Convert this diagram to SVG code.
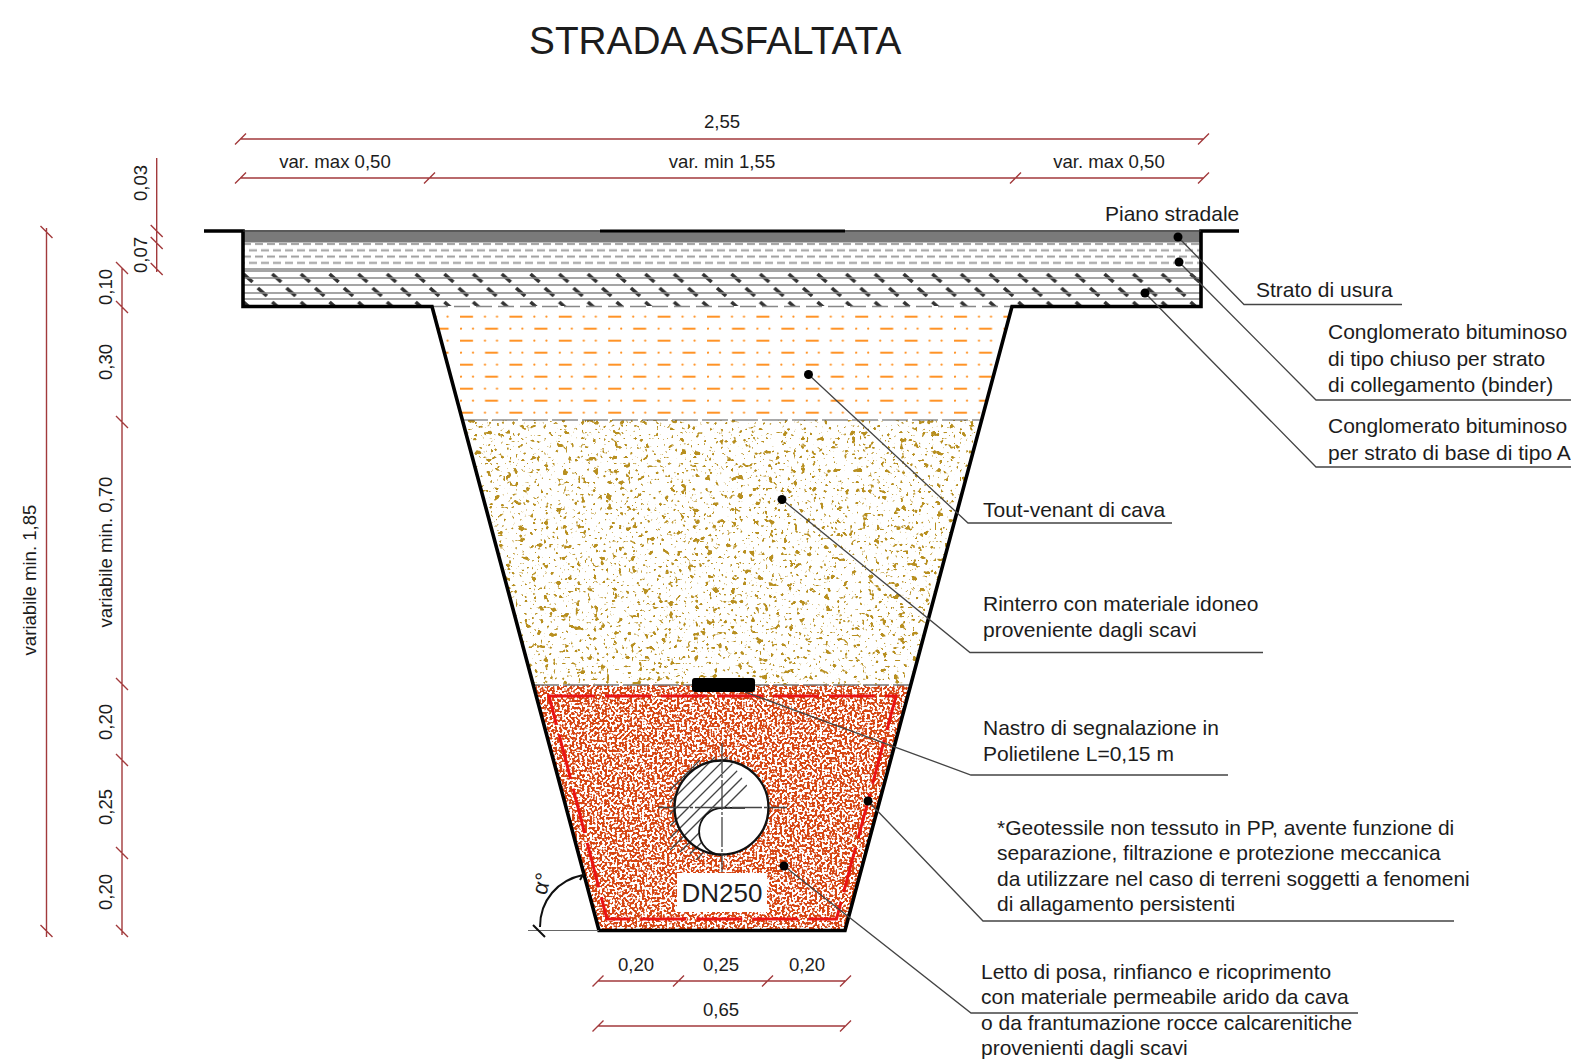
<svg xmlns="http://www.w3.org/2000/svg" width="1571" height="1061" viewBox="0 0 1571 1061">
<style>
text{font-family:"Liberation Sans",Arial,sans-serif;fill:#1c1c1c}
.t{font-size:21px}
.d{font-size:18.600px;text-anchor:middle}
.dim{stroke:#a23a3c;stroke-width:1.4;fill:none}
.lead{stroke:#444;stroke-width:1.3;fill:none}
.thick{stroke:#000;stroke-width:3.6;fill:none;stroke-linejoin:miter}
.hl{stroke:#888;stroke-width:1.3}
</style>
<defs>
<filter id="redNoise" x="0" y="0" width="100%" height="100%" color-interpolation-filters="sRGB">
<feTurbulence type="fractalNoise" baseFrequency="0.4" numOctaves="1" seed="4"/>
<feColorMatrix type="matrix" values="0 0 0 0 0.84 0 0 0 0 0.27 0 0 0 0 0.07 14 0 0 0 -6.500"/>
<feGaussianBlur stdDeviation="0.35"/>
</filter>
<filter id="goldFine" x="0" y="0" width="100%" height="100%" color-interpolation-filters="sRGB">
<feTurbulence type="fractalNoise" baseFrequency="0.32" numOctaves="1" seed="11"/>
<feColorMatrix type="matrix" values="0 0 0 0 0.72 0 0 0 0 0.56 0 0 0 0 0.12 16 0 0 0 -10.600"/>
<feGaussianBlur stdDeviation="0.3"/>
</filter>
<filter id="goldBlob" x="0" y="0" width="100%" height="100%" color-interpolation-filters="sRGB">
<feTurbulence type="fractalNoise" baseFrequency="0.16" numOctaves="2" seed="23"/>
<feColorMatrix type="matrix" values="0 0 0 0 0.72 0 0 0 0 0.56 0 0 0 0 0.12 16 0 0 0 -10.600"/>
<feGaussianBlur stdDeviation="0.3"/>
</filter>
<pattern id="orange" patternUnits="userSpaceOnUse" x="460" y="310" width="49.4" height="24">
<rect x="0" y="5.700" width="13" height="2" fill="#ff9326"/>
<rect x="25" y="17.700" width="13" height="2" fill="#ff9326"/>
<circle cx="25" cy="6.700" r="1.100" fill="#ff9326"/><circle cx="37" cy="6.700" r="1.100" fill="#ff9326"/>
<circle cx="1" cy="18.700" r="1.100" fill="#ff9326"/><circle cx="13" cy="18.700" r="1.100" fill="#ff9326"/>
</pattern>
<pattern id="grayDash" patternUnits="userSpaceOnUse" x="243" y="241" width="12" height="12.6">
<rect x="0" y="2" width="8" height="2" fill="#a0a0a0"/>
<rect x="6" y="8.300" width="6" height="2" fill="#a0a0a0"/><rect x="0" y="8.300" width="2" height="2" fill="#a0a0a0"/>
</pattern>
<pattern id="slash" patternUnits="userSpaceOnUse" x="241" y="271" width="28.7" height="28">
<path d="M2.500 3L11.500 11M16.800 17L25.800 25" stroke="#333" stroke-width="3.600" fill="none"/>
</pattern>
<clipPath id="orangeClip"><polygon points="432,308 1012,308 982,420 462,420"/></clipPath>
<clipPath id="redClip"><polygon points="533,685 911,685 845,931 599,931"/></clipPath>
<clipPath id="goldClip"><polygon points="462,420 982,420 911,685 533,685"/></clipPath>
<clipPath id="hatchClip"><polygon points="670,757 728,757 750,790 724,810 700,860 670,860"/></clipPath>
</defs>

<text x="529" y="54" style="font-size:38.800px">STRADA ASFALTATA</text>

<g id="road-layers">
<rect x="243" y="232" width="958" height="10.500" fill="#7a7a7a"/>
<rect x="243" y="243" width="958" height="25" fill="url(#grayDash)"/>
<rect x="243" y="271" width="958" height="35" fill="url(#slash)"/>
<path class="hl" d="M243 269H1201M243 271H1201M243 278H1201M243 285H1201M243 293H1201M243 299H1201"/>
<path d="M432 306.500H1012" stroke="#888" stroke-width="1.500" stroke-dasharray="16 6" fill="none"/>
</g>

<g id="trench-fill">
<g clip-path="url(#orangeClip)"><rect x="432" y="308" width="580" height="112" fill="url(#orange)"/></g>
<g clip-path="url(#goldClip)">
<rect x="460" y="420" width="525" height="266" fill="#fff" filter="url(#goldFine)"/>
<rect x="460" y="420" width="525" height="266" fill="#fff" filter="url(#goldBlob)"/>
</g>
<g clip-path="url(#redClip)"><rect x="530" y="685" width="385" height="248" fill="#fff" filter="url(#redNoise)"/></g>
<path d="M462 420H982" stroke="#555" stroke-width="1.200" stroke-dasharray="26 4" fill="none"/>
<path d="M533 685H911" stroke="#777" stroke-width="1.400" stroke-dasharray="26 4" fill="none"/>
</g>

<g id="geotextile">
<polygon points="549,696 896,696 836.500,919 607,919" fill="none" stroke="#ea1414" stroke-width="3" stroke-dasharray="46 10"/>
</g>

<g id="outline">
<path class="thick" d="M204 231H243V306.500H432L599 930.500H845L1012 306.500H1201V231H1239"/>
<path d="M243 231H1201" stroke="#222" stroke-width="1.500"/>
<path d="M600 231H845" stroke="#000" stroke-width="3"/>
</g>

<g id="pipe">
<circle cx="721.500" cy="807.500" r="47" fill="#fff"/>
<g clip-path="url(#hatchClip)">
<path d="M660 800L700 760M660 812L715 757M660 824L730 754M660 836L740 756M660 848L750 758M670 850L760 760M680 852L760 772M690 854L760 784M695 861L760 796" stroke="#444" stroke-width="1.300" fill="none"/>
</g>
<circle cx="722.700" cy="831.500" r="23.600" fill="#fff"/>
<path d="M745 807.900H722.700A23.600 23.600 0 0 0 722.700 855.100" fill="none" stroke="#111" stroke-width="1.800"/>
<circle cx="721.500" cy="807.500" r="47" fill="none" stroke="#111" stroke-width="2.400"/>
<path d="M658 807.500H787M722 743V872" stroke="#444" stroke-width="1.300" stroke-dasharray="30 2 3 2" fill="none"/>
<rect x="677" y="873" width="90" height="39" fill="#fff"/>
<text x="722" y="902" style="font-size:26px;text-anchor:middle">DN250</text>
</g>

<g id="tape"><rect x="692" y="678" width="63" height="14" rx="3" fill="#000"/></g>

<g id="angle">
<path d="M528 930.500H599" stroke="#666" stroke-width="1.200" fill="none"/>
<path d="M540 927C540 900 558 880 583 875" stroke="#111" stroke-width="2" fill="none"/>
<path d="M533 925L545 937M580 880L584 873" stroke="#111" stroke-width="2" fill="none"/>
<text transform="translate(546 896) rotate(-75)" style="font-size:22px">α°</text>
</g>

<g id="connectors">
<path class="lead" d="M1178 237L1244 304.500H1402"/>
<path class="lead" d="M1179 262L1316 400H1571"/>
<path class="lead" d="M1145 293L1316 467H1571"/>
<path class="lead" d="M808.500 374.500L968 523H1172"/>
<path class="lead" d="M782 499.500L970 652.500H1263"/>
<path class="lead" d="M745 692L971 775H1228"/>
<path class="lead" d="M868 801L983 921H1454"/>
<path class="lead" d="M784 866L971 1013H1358"/>
<g fill="#000">
<circle cx="1178" cy="237" r="4.500"/><circle cx="1179" cy="262" r="4.500"/><circle cx="1145" cy="293" r="4.500"/>
<circle cx="808.500" cy="374.500" r="4.500"/><circle cx="782" cy="499.500" r="4.500"/><circle cx="868" cy="801" r="4.500"/><circle cx="784" cy="866" r="4.500"/>
</g>
</g>

<g id="dimensions">
<path class="dim" d="M240 139H1204M235 144.500L246 133.500M1198 144.500L1209 133.500"/>
<path class="dim" d="M240 178H1204M235 183.500L246 172.500M424 183.500L435 172.500M1010 183.500L1021 172.500M1198 183.500L1209 172.500"/>
<path class="dim" d="M156.700 158V272M150.700 225L162.700 237M150.700 237L162.700 249M150.700 263L162.700 275"/>
<path class="dim" d="M122 268V935M116 262L128 274M116 301L128 313M116 416L128 428M116 678L128 690M116 754L128 766M116 847L128 859M116 925L128 937"/>
<path class="dim" d="M46.500 228V937M40.500 226L52.500 238M40.500 925L52.500 937"/>
<path class="dim" d="M598 981H845M592.500 986.500L603.500 975.500M673 986.500L684 975.500M762 986.500L773 975.500M840 986.500L851 975.500"/>
<path class="dim" d="M598 1026H845M592.500 1031.500L603.500 1020.500M840 1031.500L851 1020.500"/>
<text class="d" x="722" y="128">2,55</text>
<text class="d" x="335" y="168">var. max 0,50</text>
<text class="d" x="722" y="168">var. min 1,55</text>
<text class="d" x="1109" y="168">var. max 0,50</text>
<text class="d" x="636" y="971">0,20</text>
<text class="d" x="721" y="971">0,25</text>
<text class="d" x="807" y="971">0,20</text>
<text class="d" x="721" y="1016">0,65</text>
<text class="d" transform="translate(147 183) rotate(-90)">0,03</text>
<text class="d" transform="translate(147 255) rotate(-90)">0,07</text>
<text class="d" transform="translate(112 287) rotate(-90)">0,10</text>
<text class="d" transform="translate(112 362) rotate(-90)">0,30</text>
<text class="d" transform="translate(112 552) rotate(-90)">variabile min. 0,70</text>
<text class="d" transform="translate(112 722) rotate(-90)">0,20</text>
<text class="d" transform="translate(112 807) rotate(-90)">0,25</text>
<text class="d" transform="translate(112 892) rotate(-90)">0,20</text>
<text class="d" transform="translate(36 580) rotate(-90)">variabile min. 1,85</text>
</g>

<g id="labels">
<text class="t" x="1105" y="221">Piano stradale</text>
<text class="t" x="1256" y="297">Strato di usura</text>
<text class="t" x="1328" y="339">Conglomerato bituminoso</text>
<text class="t" x="1328" y="366">di tipo chiuso per strato</text>
<text class="t" x="1328" y="392">di collegamento (binder)</text>
<text class="t" x="1328" y="433">Conglomerato bituminoso</text>
<text class="t" x="1328" y="460">per strato di base di tipo A</text>
<text class="t" x="983" y="517">Tout-venant di cava</text>
<text class="t" x="983" y="611">Rinterro con materiale idoneo</text>
<text class="t" x="983" y="637">proveniente dagli scavi</text>
<text class="t" x="983" y="735">Nastro di segnalazione in</text>
<text class="t" x="983" y="761">Polietilene L=0,15 m</text>
<text class="t" x="997" y="835">*Geotessile non tessuto in PP, avente funzione di</text>
<text class="t" x="997" y="860">separazione, filtrazione e protezione meccanica</text>
<text class="t" x="997" y="886">da utilizzare nel caso di terreni soggetti a fenomeni</text>
<text class="t" x="997" y="911">di allagamento persistenti</text>
<text class="t" x="981" y="979">Letto di posa, rinfianco e ricoprimento</text>
<text class="t" x="981" y="1004">con materiale permeabile arido da cava</text>
<text class="t" x="981" y="1030">o da frantumazione rocce calcarenitiche</text>
<text class="t" x="981" y="1055">provenienti dagli scavi</text>
</g>
</svg>
